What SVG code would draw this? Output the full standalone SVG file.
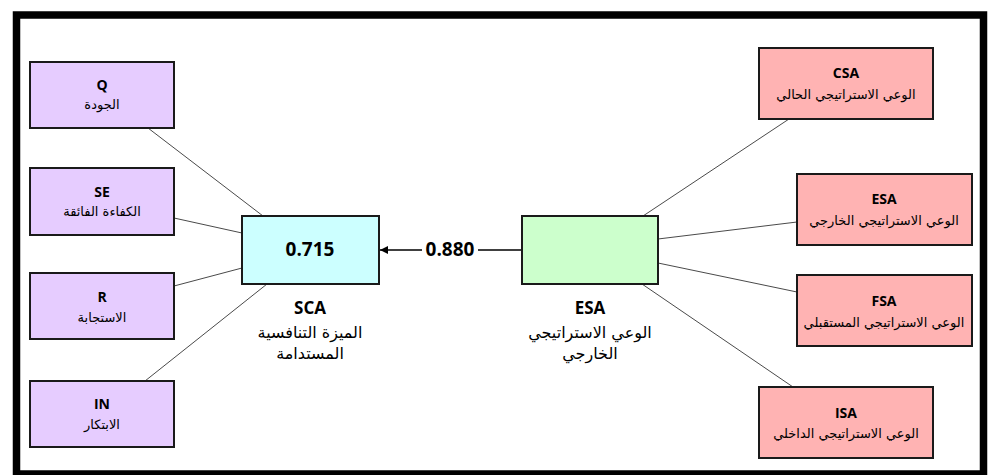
<svg xmlns="http://www.w3.org/2000/svg" width="992" height="475" viewBox="0 0 992 475">
  <style>
    .box { stroke: #1a1a1a; stroke-width: 2; }
    .ind { fill: #E6CCFF; }
    .dep { fill: #FFB3B3; }
    .code { font-family: "Open Sans", "DejaVu Sans", sans-serif; font-weight: bold; font-size: 14px; fill: #000; text-anchor: middle; dominant-baseline: middle; }
    .ar { font-family: "DejaVu Sans", "Noto Sans", sans-serif; font-size: 13px; fill: #000; text-anchor: middle; dominant-baseline: middle; }
    .big { font-family: "Open Sans", "DejaVu Sans", sans-serif; font-weight: bold; font-size: 19px; fill: #000; text-anchor: middle; dominant-baseline: middle; }
    .lbl { font-family: "Open Sans", "DejaVu Sans", sans-serif; font-weight: bold; font-size: 17px; fill: #000; text-anchor: middle; dominant-baseline: middle; }
    .arl { font-family: "DejaVu Sans", "Noto Sans", sans-serif; font-size: 16px; fill: #000; text-anchor: middle; dominant-baseline: middle; }
    .link { stroke: #4a4a4a; stroke-width: 1; fill: none; }
  </style>
  <defs>
    <marker id="arrow" viewBox="0 0 10 10" refX="10" refY="5" markerWidth="8" markerHeight="8" markerUnits="userSpaceOnUse" orient="auto">
      <path d="M0,0 L10,5 L0,10 z" fill="#000"/>
    </marker>
  </defs>

  <rect x="0" y="0" width="992" height="475" fill="#fff"/>
  <!-- outer frame -->
  <rect x="16.5" y="15" width="967" height="459" fill="none" stroke="#000" stroke-width="7.5"/>

  <!-- connectors -->
  <g id="connectors">
    <line class="link" x1="148" y1="128" x2="263" y2="216"/>
    <line class="link" x1="174" y1="218" x2="242" y2="233"/>
    <line class="link" x1="174" y1="286" x2="242" y2="268"/>
    <line class="link" x1="145" y1="381" x2="267" y2="284"/>
    <line class="link" x1="789" y1="119" x2="643" y2="216"/>
    <line class="link" x1="797" y1="222" x2="658" y2="239"/>
    <line class="link" x1="658" y1="263" x2="797" y2="292"/>
    <line class="link" x1="642" y1="284" x2="793" y2="387"/>
    <line x1="522" y1="250" x2="478" y2="250" stroke="#000" stroke-width="1.5"/>
    <line x1="422" y1="250" x2="380" y2="250" stroke="#000" stroke-width="1.5" marker-end="url(#arrow)"/>
    <text class="big" x="450" y="251">0.880</text>
  </g>

  <!-- left indicators -->
  <g id="node-Q">
    <rect class="box ind" x="30" y="62" width="144" height="66"/>
    <text class="code" x="102" y="86">Q</text>
    <text class="ar" x="102" y="105">الجودة</text>
  </g>
  <g id="node-SE">
    <rect class="box ind" x="30" y="168" width="144" height="67"/>
    <text class="code" x="102" y="193">SE</text>
    <text class="ar" x="102" y="212">الكفاءة الفائقة</text>
  </g>
  <g id="node-R">
    <rect class="box ind" x="30" y="273" width="144" height="66"/>
    <text class="code" x="102" y="298">R</text>
    <text class="ar" x="102" y="318">الاستجابة</text>
  </g>
  <g id="node-IN">
    <rect class="box ind" x="30" y="381" width="144" height="66"/>
    <text class="code" x="102" y="405">IN</text>
    <text class="ar" x="102" y="425">الابتكار</text>
  </g>

  <!-- latent constructs -->
  <g id="node-SCA">
    <rect class="box" x="242" y="216" width="137" height="68" fill="#CCFFFF"/>
    <text class="big" x="310" y="251">0.715</text>
    <text class="lbl" x="310" y="309">SCA</text>
    <text class="arl" x="310" y="333">الميزة التنافسية</text>
    <text class="arl" x="310" y="354">المستدامة</text>
  </g>
  <g id="node-ESA-latent">
    <rect class="box" x="522" y="216" width="136" height="68" fill="#CCFFCC"/>
    <text class="lbl" x="590" y="309">ESA</text>
    <text class="arl" x="590" y="333">الوعي الاستراتيجي</text>
    <text class="arl" x="590" y="354">الخارجي</text>
  </g>

  <!-- right indicators -->
  <g id="node-CSA">
    <rect class="box dep" x="759" y="48" width="174" height="71"/>
    <text class="code" x="846" y="74">CSA</text>
    <text class="ar" x="846" y="95">الوعي الاستراتيجي الحالي</text>
  </g>
  <g id="node-ESA">
    <rect class="box dep" x="797" y="174" width="175" height="71"/>
    <text class="code" x="884" y="200">ESA</text>
    <text class="ar" x="884" y="221">الوعي الاستراتيجي الخارجي</text>
  </g>
  <g id="node-FSA">
    <rect class="box dep" x="797" y="275" width="175" height="71"/>
    <text class="code" x="884" y="302">FSA</text>
    <text class="ar" x="884" y="323">الوعي الاستراتيجي المستقبلي</text>
  </g>
  <g id="node-ISA">
    <rect class="box dep" x="759" y="387" width="174" height="71"/>
    <text class="code" x="846" y="414">ISA</text>
    <text class="ar" x="846" y="434">الوعي الاستراتيجي الداخلي</text>
  </g>
</svg>
